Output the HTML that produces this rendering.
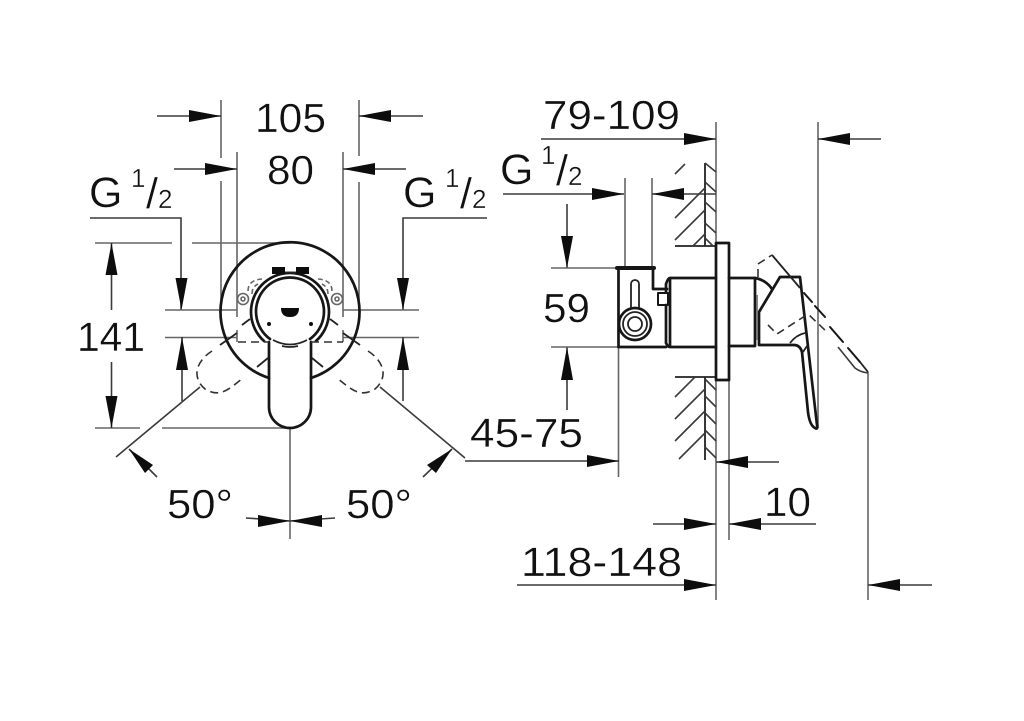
<!DOCTYPE html>
<html><head><meta charset="utf-8"><style>
html,body{margin:0;padding:0;background:#fff;width:1024px;height:721px;overflow:hidden}
svg{display:block}
text{font-family:"Liberation Sans",sans-serif;fill:#111;stroke:#fff;stroke-width:.35}
.t{font-size:41px}.s{font-size:26px}.G{font-size:43px}.sl{font-size:43px}
.l{stroke:#3a3a3a;stroke-width:1.6;fill:none}
.g{stroke:#666;stroke-width:1.6;fill:none}
.b{stroke:#151515;stroke-width:2.7;fill:none;stroke-linejoin:round;stroke-linecap:round}
.m{stroke:#222;stroke-width:1.8;fill:none}
.d{stroke:#333;stroke-width:1.6;fill:none;stroke-dasharray:8 5}
.a{fill:#0a0a0a;stroke:none}
</style></head><body>
<svg width="1024" height="721" viewBox="0 0 1024 721" xmlns="http://www.w3.org/2000/svg">
<defs><filter id="f" x="0" y="0" width="100%" height="100%"><feGaussianBlur stdDeviation="0.35"/></filter></defs>
<rect width="1024" height="721" fill="#fff"/>
<g filter="url(#f)">
<!-- FRONT VIEW extension lines -->
<path class="g" d="M221 100V158M221 181V300M359 100V156M359 182V300M237 152V317M237 330V342M343 152V317M343 330V342"/>
<path class="l" d="M157 116H221M359 116H423M174 169H237M343 169H406"/>
<path class="l" d="M90 218H181V310M487 218H403V310"/>
<path class="g" d="M165 310H237M343 310H419M165 337.500H237M343 337.500H419"/>
<path class="l" d="M182 337V401M403 337V401"/>
<path class="g" d="M95 243H172M192 243H290M95 428H140M162 428H290"/>
<path class="l" d="M111.500 243V310M111.500 362V428"/>
<path class="g" d="M290 428V539"/>
<path class="l" d="M116 457L200 387M465 458L380 387M246 518L290 521L335 518"/>
<path class="l" d="M129 449L157 477M452 449L423 477"/>
<!-- arrows front -->
<path class="a" d="M221 116L189 110V122ZM359 116L391 110V122ZM237 169L205 163V175ZM343 169L375 163V175Z"/>
<path class="a" d="M181.500 310L175.500 278H187.500ZM403 310L397 278H409ZM182 337L176 370H188ZM403 337L397 370H409Z"/>
<path class="a" d="M111.500 243L105.500 275H117.500ZM111.500 428L105.500 396H117.500Z"/>
<path class="a" d="M129 449L153 465L145 473ZM452 449L436 473L427 465ZM290 521L258 515V527ZM290 521L322 515V527Z"/>
<!-- FRONT VIEW part -->
<path class="b" d="M269 378A69.500 69.500 0 1 1 311 378"/>
<path class="b" d="M264 341A39 39 0 1 1 316 341"/>
<path class="b" d="M270 339A34 34 0 1 1 310 339"/>
<path class="b" d="M269 342V407A21 21 0 0 0 311 407V342"/>
<path class="m" d="M273 340Q290 349 307 340M282 346Q290 348 298 346"/>
<path class="d" d="M238 342H269M311 342H343"/>
<path class="a" d="M281 308H299Q299 317 290 317Q281 317 281 308Z"/>
<circle class="a" cx="269" cy="324" r="2"/><circle class="a" cx="311" cy="324" r="2"/>
<path class="a" d="M272 267H285V274H272ZM296 267H309V274H296Z"/>
<path class="m" d="M285 272.500H296"/>
<circle class="g" cx="243" cy="299" r="5.500"/><circle class="g" cx="337" cy="299" r="5.500"/>
<circle class="g" cx="243" cy="299" r="2"/><circle class="g" cx="337" cy="299" r="2"/>
<path class="g" stroke-dasharray="5 3" d="M248 291Q248 280 262 279M332 291Q332 280 318 279M252 294Q252 287 258 284M328 294Q328 287 322 284"/>
<path class="m" d="M220 345L237 333M360 345L343 333M257 367L268 358M323 367L312 358M242 325L250 319M338 325L330 319"/>
<path class="d" d="M212 351C195 362 192 378 205 389C220 398 228 390 243 378"/>
<path class="d" d="M368 351C385 362 388 378 375 389C360 398 352 390 337 378"/>
<!-- SIDE VIEW dims -->
<path class="g" d="M716 122V600M818 122V428M625 178V268M652 178V268M618.500 268V477M729 380V540M868 372V600"/>
<path class="l" d="M541 139H716M818 139H881M503 194H624M652 194H716M567 204V268M567 347V410"/>
<path class="g" d="M551 268H620M551 347H716"/>
<path class="l" d="M465 461H619M716 462H779M653 524H716M729 524H816M517 585H716M868 585H932"/>
<path class="a" d="M716 139L684 133V145ZM818 139L850 133V145ZM624 194L592 188V200ZM652 194L684 188V200ZM567 268L561 236H573ZM567 347L561 380H573Z"/>
<path class="a" d="M619 461L587 455V467ZM716 462L748 456V468ZM716 524L684 518V530ZM729 524L761 518V530ZM716 585L684 579V591ZM868 585L900 579V591Z"/>
<!-- wall & hatch -->
<path class="m" d="M705 163V246M675 246H716M705 377V460M675 377H716"/>
<path class="l" d="M675 174L685 164M675 218L705 188M675 240L705 210M693 246L705 234M705 163L716 172M705 182L716 192M705 202L716 212M705 223L716 233M705 238L713 246"/>
<path class="l" d="M675 397L695 377M675 419L705 389M675 441L705 411M679 459L705 433M705 379L716 390M705 396L716 407M705 413L716 424M705 430L716 441M705 447L716 458"/>
<!-- mixer body -->
<path class="b" d="M716 243H729V380H716V243"/>
<path class="b" d="M670 278H716M670 347H716M670 278V347M666 284Q668 278 670 278M666 343Q668 347 670 347M666 284V292M666 305V343"/>
<path class="b" d="M729 278H755V346H729M755 278V346"/>
<path class="b" d="M617 268H654" style="stroke-width:4"/>
<path class="b" d="M618.500 270V347H666M653 270V289H667"/>
<rect class="b" x="658" y="293" width="10" height="12" style="stroke-width:2"/>
<circle class="b" cx="635" cy="324" r="16"/><circle class="m" cx="635" cy="324" r="12"/><circle class="m" cx="635" cy="324" r="7"/>
<path class="m" d="M631 308V284A4 4 0 0 1 639 284V308"/>
<!-- handle -->
<path class="b" d="M755 278Q766 280 772 289M759 345V312L780 277H800L817 425Q818 430 815 428C811 426 809 420 808 412L802 352Q800 345 794 345H759"/>
<path class="m" d="M790 343Q796 335 805 333M803 352L807 346"/>
<path class="m" d="M757 295V340" style="stroke:#777"/>
<path class="d" stroke-dasharray="8 4" d="M758 277V264L772 255"/>
<path class="m" d="M772 255L800 288"/>
<path class="b" style="stroke-width:2" d="M804 293L812 302M815 306L825 317M830 327L843 342M848 348L860 362"/>
<path class="m" d="M860 362L868 372"/>
<path class="d" d="M768 325L777 334L808 314L828 333"/>
<path class="l" d="M838 347L855 368Q860 372 868 373"/>
</g>
<!-- TEXT -->
<text class="t" x="255" y="132" textLength="71" lengthAdjust="spacingAndGlyphs">105</text>
<text class="t" x="267" y="184" textLength="47" lengthAdjust="spacingAndGlyphs">80</text>
<text class="G" x="89" y="207">G</text><text class="s" x="131" y="187">1</text><text class="sl" x="146" y="208">/</text><text class="s" x="158" y="208">2</text>
<text class="G" x="403" y="207">G</text><text class="s" x="445" y="187">1</text><text class="sl" x="460" y="208">/</text><text class="s" x="472" y="208">2</text>
<text class="G" x="500" y="184">G</text><text class="s" x="541" y="164">1</text><text class="sl" x="556" y="185">/</text><text class="s" x="568" y="185">2</text>
<text class="t" x="77" y="351" textLength="68" lengthAdjust="spacingAndGlyphs">141</text>
<text class="t" x="167" y="518" textLength="66" lengthAdjust="spacingAndGlyphs">50°</text>
<text class="t" x="346" y="518" textLength="66" lengthAdjust="spacingAndGlyphs">50°</text>
<text class="t" x="543" y="129" textLength="137" lengthAdjust="spacingAndGlyphs">79-109</text>
<text class="t" x="543" y="322" textLength="47" lengthAdjust="spacingAndGlyphs">59</text>
<text class="t" x="470" y="447" textLength="113" lengthAdjust="spacingAndGlyphs">45-75</text>
<text class="t" x="764" y="516" textLength="47" lengthAdjust="spacingAndGlyphs">10</text>
<text class="t" x="521" y="576" textLength="161" lengthAdjust="spacingAndGlyphs">118-148</text>
</svg>
</body></html>
